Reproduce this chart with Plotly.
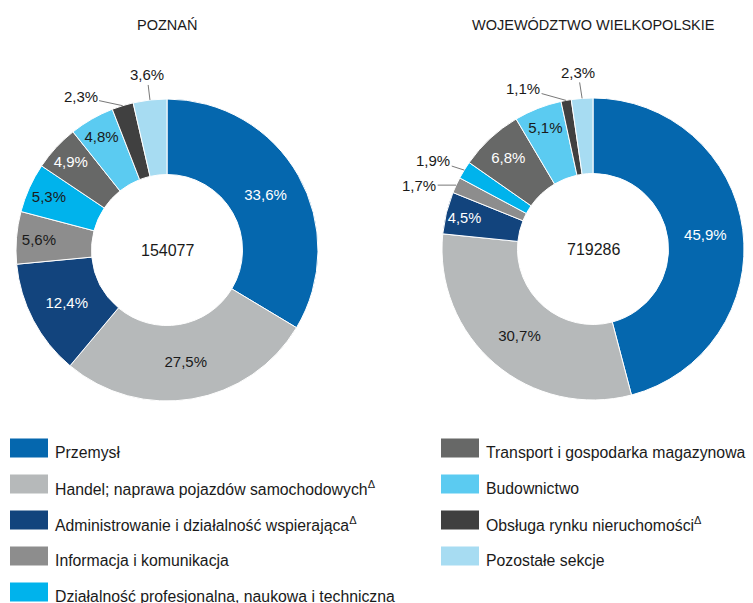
import math
import plotly.graph_objects as go

W, H = 753, 603

# ---------------- data ----------------
categories = [
    "Przemysł",
    "Handel; naprawa pojazdów samochodowych<sup>Δ</sup>",
    "Administrowanie i działalność wspierająca<sup>Δ</sup>",
    "Informacja i komunikacja",
    "Działalność profesjonalna, naukowa i techniczna",
    "Transport i gospodarka magazynowa",
    "Budownictwo",
    "Obsługa rynku nieruchomości<sup>Δ</sup>",
    "Pozostałe sekcje",
]
poznan_values = [33.6, 27.5, 12.4, 5.6, 5.3, 4.9, 4.8, 2.3, 3.6]
wlkp_values = [45.9, 30.7, 4.5, 1.7, 1.9, 6.8, 5.1, 1.1, 2.3]
poznan_total = "154077"
wlkp_total = "719286"
titles = ["POZNAŃ", "WOJEWÓDZTWO WIELKOPOLSKIE"]

# ---------------- style ----------------
colors = ["#0567ae", "#b6b9ba", "#12447d", "#8d8d8d", "#00b3ec",
          "#676867", "#5bcbf1", "#404040", "#a7dcf2"]
FONT = "Liberation Sans, Arial, sans-serif"
TXT = "#1a1a1a"

# pie geometry in pixels: (cx, cy, r)
pies = [
    dict(values=poznan_values, total=poznan_total, title=titles[0],
         cx=167, cy=250, r=151,
         inside_text=["white", TXT, "white", TXT, TXT, "white", TXT, None, None],
         outside={7: (-42, -9), 8: (-3, -25)}),
    dict(values=wlkp_values, total=wlkp_total, title=titles[1],
         cx=593, cy=249, r=151,
         inside_text=["white", TXT, "white", None, None, "white", TXT, None, None],
         outside={3: (-37, 0), 4: (-31, -10), 7: (-43, -12), 8: (-4, -26)}),
]


def fmt(v):
    return f"{v:.1f}%".replace(".", ",")


fig = go.Figure()
annotations = []
shapes = []

for p in pies:
    cx, cy, r = p["cx"], p["cy"], p["r"]
    vals = p["values"]
    textpos = ["inside" if c is not None else "none" for c in p["inside_text"]]
    tcolors = [c if c is not None else "black" for c in p["inside_text"]]
    fig.add_trace(go.Pie(
        values=vals,
        labels=[c.split("<sup>")[0] for c in categories],
        text=[fmt(v) for v in vals],
        texttemplate="%{text}",
        textposition=textpos,
        insidetextorientation="horizontal",
        textfont=dict(family=FONT, size=15, color=tcolors),
        marker=dict(colors=colors, line=dict(color="white", width=1)),
        hole=0.5,
        sort=False,
        direction="clockwise",
        rotation=0,
        showlegend=False,
        hoverinfo="label+percent",
        domain=dict(x=[(cx - r) / W, (cx + r) / W],
                    y=[1 - (cy + r) / H, 1 - (cy - r) / H]),
    ))
    # centre total
    annotations.append(dict(x=cx / W, y=1 - cy / H, xref="paper", yref="paper",
                            xanchor="center", yanchor="middle",
                            text=p["total"], showarrow=False,
                            font=dict(family=FONT, size=16, color=TXT)))
    # title
    annotations.append(dict(x=cx / W, y=1 - 25 / H, xref="paper", yref="paper",
                            xanchor="center", yanchor="middle",
                            text=p["title"], showarrow=False,
                            font=dict(family=FONT, size=14.5, color=TXT)))
    # outside labels with leader lines
    total = sum(vals)
    cum = 0.0
    for i, v in enumerate(vals):
        mid = (cum + v / 2) / total
        cum += v
        if i in p["outside"]:
            ang = 2 * math.pi * mid
            px = cx + r * math.sin(ang)
            py = cy - r * math.cos(ang)
            ax, ay = p["outside"][i]
            annotations.append(dict(
                x=px / W, y=1 - py / H, xref="paper", yref="paper",
                text=fmt(v), showarrow=True, arrowhead=0, arrowwidth=0.8,
                arrowcolor="#555555", ax=ax, ay=ay, standoff=0,
                font=dict(family=FONT, size=15, color=TXT)))

# ---------------- custom legend ----------------
for i, (cat, col) in enumerate(zip(categories, colors)):
    column = 0 if i < 5 else 1
    row = i if i < 5 else i - 5
    x0 = 10 if column == 0 else 441
    yc = 448 + 36 * row
    shapes.append(dict(type="rect", xref="paper", yref="paper",
                       x0=x0 / W, x1=(x0 + 38) / W,
                       y0=1 - (yc + 9.5) / H, y1=1 - (yc - 9.5) / H,
                       fillcolor=col, line=dict(width=0)))
    annotations.append(dict(x=(x0 + 43) / W, y=1 - (yc + 4) / H,
                            xref="paper", yref="paper", xanchor="left",
                            yanchor="middle", text=cat, showarrow=False,
                            font=dict(family=FONT, size=15.8, color=TXT)))

fig.update_layout(
    width=W, height=H,
    margin=dict(l=0, r=0, t=0, b=0),
    paper_bgcolor="white",
    plot_bgcolor="white",
    annotations=annotations,
    shapes=shapes,
    font=dict(family=FONT),
)

fig.write_html("out.html",
               config={"displayModeBar": False},
               post_script="document.body.style.margin='0';document.body.style.overflow='hidden';")
